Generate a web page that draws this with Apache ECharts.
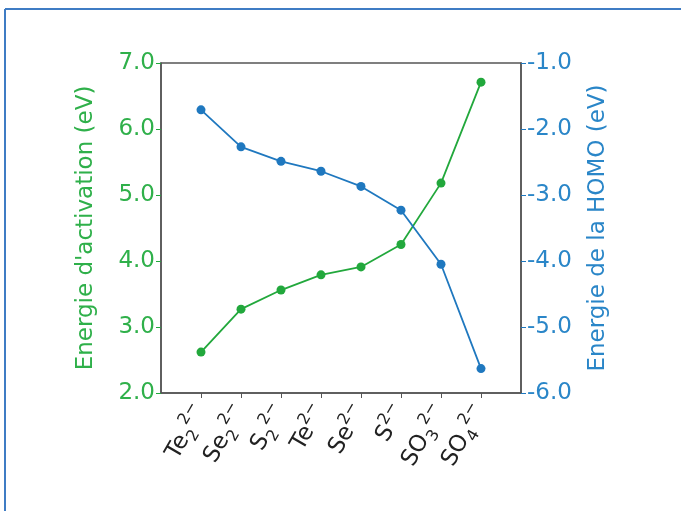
<!DOCTYPE html>
<html>
<head>
<meta charset="utf-8">
<script src="https://cdn.jsdelivr.net/npm/echarts@6/dist/echarts.min.js"></script>
<style>html,body{margin:0;padding:0;background:#fff}#c{width:681px;height:511px}</style>
</head>
<body>
<div id="c"></div>
<script>
const speciesBase = ['Te', 'Se', 'S', 'Te', 'Se', 'S', 'SO', 'SO'];
const speciesSub = ['2', '2', '2', '', '', '', '3', '4'];
const speciesCharge = ['2−', '2−', '2−', '2−', '2−', '2−', '2−', '2−'];
const activationEnergy = [2.62, 3.27, 3.56, 3.79, 3.91, 4.25, 5.18, 6.71];
const homoEnergy = [-1.71, -2.27, -2.49, -2.64, -2.87, -3.23, -4.05, -5.63];
const leftTicks = [2, 7, 1];
const rightTicks = [-6, -1, 1];

const green = '#22a83c';
const greenText = '#2fb04a';
const blue = '#1f78bf';
const blueText = '#2a86c8';
const font = 'DejaVu Sans';

const cats = ['pad0'].concat(speciesBase.map((b, i) => 'c' + i), ['pad1']);
const labelMap = {};
speciesBase.forEach((b, i) => {
  labelMap['c' + i] = b + (speciesSub[i] ? '{sub|' + speciesSub[i] + '}' : '') + '{sup|' + speciesCharge[i] + '}';
});
const pad = v => ['-'].concat(v, ['-']);

const chart = echarts.init(document.getElementById('c'), null, {renderer: 'canvas'});
chart.setOption({
  animation: false,
  backgroundColor: '#fff',
  graphic: [
    {type: 'line', shape: {x1: 5, y1: 9, x2: 681, y2: 9}, style: {stroke: '#3f7cc4', lineWidth: 2}},
    {type: 'line', shape: {x1: 5, y1: 9, x2: 5, y2: 511}, style: {stroke: '#3f7cc4', lineWidth: 2}}
  ],
  grid: {left: 161, right: 160, top: 63, bottom: 118, show: true, borderColor: '#555', borderWidth: 1.5, backgroundColor: '#fff'},
  xAxis: {
    type: 'category',
    data: cats,
    boundaryGap: false,
    axisLine: {lineStyle: {color: '#555', width: 1.5}},
    axisTick: {show: true, length: 5, interval: (i) => i > 0 && i < cats.length - 1, lineStyle: {color: '#555'}},
    axisLabel: {
      interval: 0,
      rotate: 60,
      margin: 14,
      color: '#222',
      fontFamily: font,
      fontSize: 23,
      formatter: v => labelMap[v] || '',
      rich: {
        sup: {fontSize: 16, fontFamily: font, color: '#222', verticalAlign: 'top', lineHeight: 32},
        sub: {fontSize: 16, fontFamily: font, color: '#222', verticalAlign: 'bottom', lineHeight: 32}
      }
    },
    splitLine: {show: false}
  },
  yAxis: [
    {
      type: 'value', position: 'left', min: leftTicks[0], max: leftTicks[1], interval: leftTicks[2],
      name: "Energie d'activation (eV)", nameLocation: 'middle', nameGap: 63,
      nameTextStyle: {color: greenText, fontFamily: font, fontSize: 23},
      axisLine: {show: true, lineStyle: {color: '#555', width: 1.5}},
      axisTick: {show: true, length: 5, lineStyle: {color: green}},
      axisLabel: {color: greenText, fontFamily: font, fontSize: 23, margin: 6, formatter: v => v.toFixed(1)},
      splitLine: {show: false}
    },
    {
      type: 'value', position: 'right', min: rightTicks[0], max: rightTicks[1], interval: rightTicks[2],
      name: 'Energie de la HOMO (eV)', nameLocation: 'middle', nameGap: 66, nameRotate: 90,
      nameTextStyle: {color: blueText, fontFamily: font, fontSize: 23},
      axisLine: {show: true, lineStyle: {color: '#555', width: 1.5}},
      axisTick: {show: true, length: 5, lineStyle: {color: blue}},
      axisLabel: {color: blueText, fontFamily: font, fontSize: 23, margin: 6, formatter: v => v.toFixed(1)},
      splitLine: {show: false}
    }
  ],
  series: [
    {type: 'line', yAxisIndex: 0, data: pad(activationEnergy), color: green, symbol: 'circle', symbolSize: 9,
     lineStyle: {width: 1.8, color: green}, itemStyle: {color: green}},
    {type: 'line', yAxisIndex: 1, data: pad(homoEnergy), color: blue, symbol: 'circle', symbolSize: 9,
     lineStyle: {width: 1.8, color: blue}, itemStyle: {color: blue}}
  ]
});
</script>
</body>
</html>
